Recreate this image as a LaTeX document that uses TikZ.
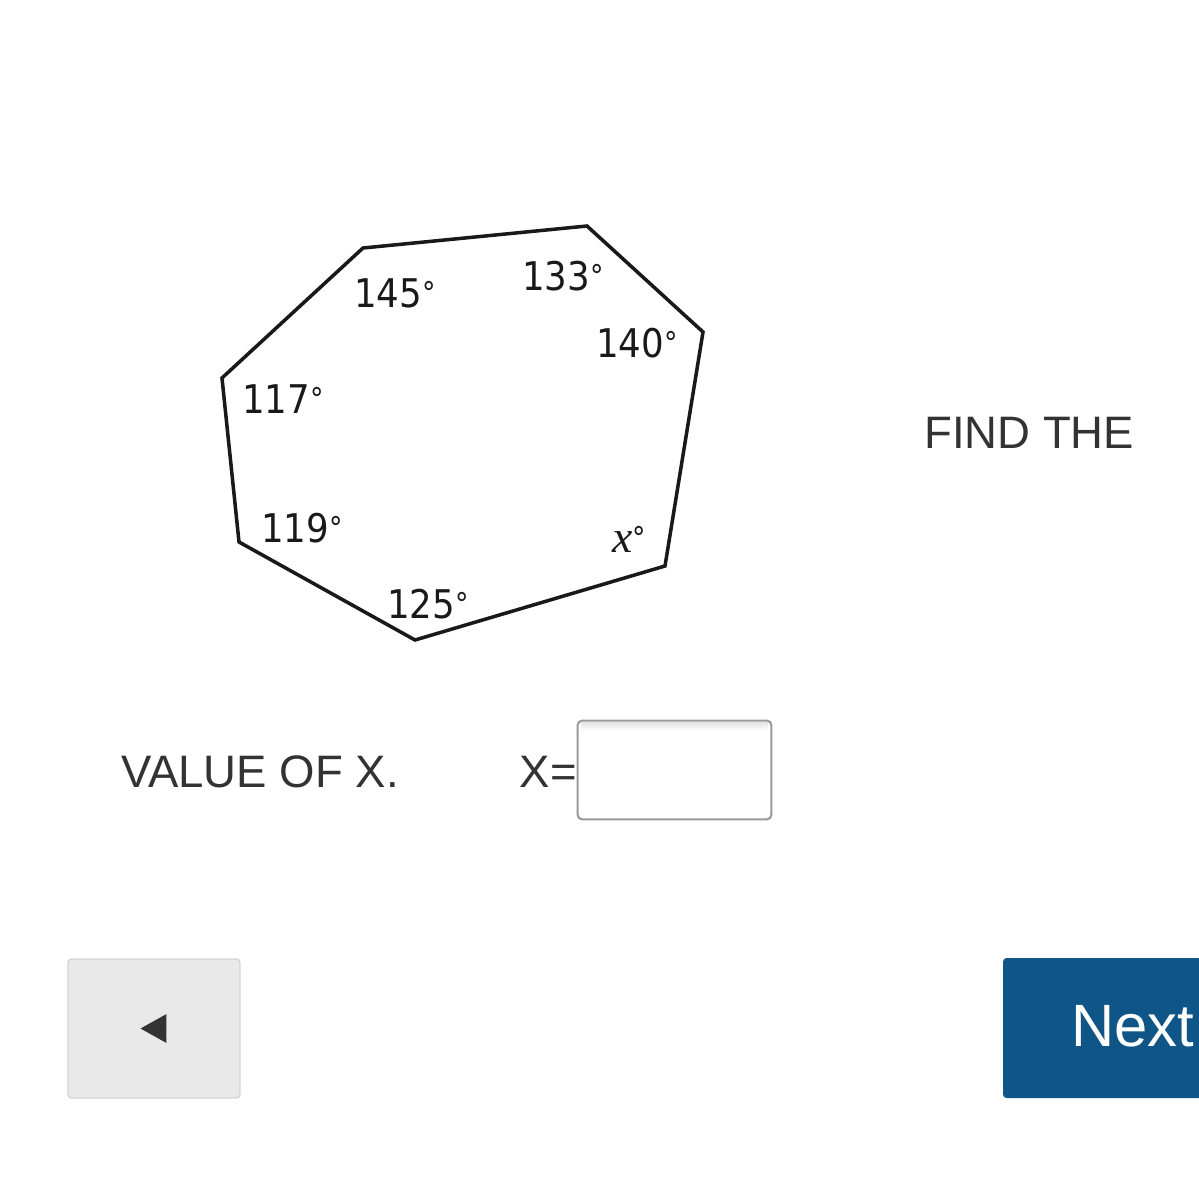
\documentclass[tikz,border=0pt]{standalone}
\usepackage{fontspec}
\setmainfont{Liberation Sans}
\newfontfamily\anglefont{DejaVu Sans Condensed}
\newfontfamily\varfont{Liberation Serif}
\usetikzlibrary{positioning}
\definecolor{textgray}{HTML}{333333}
\definecolor{nextblue}{HTML}{0F5587}
\definecolor{btngray}{HTML}{E9E9E9}
\definecolor{btnedge}{HTML}{D4D4D4}
\definecolor{boxedge}{HTML}{9A9A9A}

\newcommand{\degmark}{\raisebox{2pt}{\fontsize{17}{17}\selectfont°}}

\tikzset{
  angle/.style={anchor=base west, inner sep=0pt, font=\anglefont\fontsize{22.5}{24}\selectfont, text=black!90},
  prompt/.style={anchor=base west, inner sep=0pt, font=\fontsize{25.9}{30}\selectfont, text=textgray},
  button/.style={minimum width=3.44cm, minimum height=2.78cm, rounded corners=2pt, inner sep=0pt},
}

\begin{document}
\begin{tikzpicture}[x=0.02cm, y=-0.02cm]
		\clip (0,0) rectangle (1199,1200);
		\fill[white] (0,0) rectangle (1199,1200);
		
		% heptagon
		\coordinate (v1) at (363,248);
		\coordinate (v2) at (587,226);
		\coordinate (v3) at (703,332);
		\coordinate (v4) at (665,566);
		\coordinate (v5) at (415,640);
		\coordinate (v6) at (239,542);
		\coordinate (v7) at (222,378);
		\draw[line width=2pt, line join=miter, black!90] (v1) -- (v2) -- (v3) -- (v4) -- (v5) -- (v6) -- (v7) -- cycle;
		
		\node[angle] (a145) at (354,307) {145\degmark};
		\node[angle] (a133) at (522,290) {133\degmark};
		\node[angle] (a140) at (596,357) {140\degmark};
		\node[angle] (a117) at (242,413) {117\degmark};
		\node[angle] (a119) at (261,542) {119\degmark};
		\node[angle] (a125) at (387,618) {125\degmark};
		\node[angle] (ax) at (612,552) {{\varfont\itshape\fontsize{26}{28}\selectfont x}\degmark};
		
		% question text
		\node[prompt] (find) at (924,448) {FIND THE};
		\node[prompt] (value) at (121,787) {VALUE OF X.};
		\node[minimum width=3.86cm, minimum height=1.96cm, inner sep=0pt] (answer) at (674.5,770) {};
		\shade[top color=black!10, bottom color=white] ([xshift=0.08cm, yshift=-0.04cm]answer.north west) rectangle ([xshift=-0.08cm, yshift=-0.2cm]answer.north east);
		\draw[boxedge, line width=1.2pt, rounded corners=2.5pt] (answer.north west) rectangle (answer.south east);
		\node[prompt, anchor=base east] (xeq) at (577,787) {X=};
		
		% buttons
		\node[button, fill=btngray, draw=btnedge, line width=0.8pt] (back) at (154,1028.5) {};
		\fill[textgray] ([xshift=-0.27cm]back.center) -- ([xshift=0.25cm, yshift=0.29cm]back.center) -- ([xshift=0.25cm, yshift=-0.29cm]back.center) -- cycle;
		\node[button, fill=nextblue, minimum width=4.24cm, minimum height=2.8cm] (next) at (1109,1028) {};
		\node[anchor=base west, inner sep=0pt, text=white, font=\fontsize{34}{38}\selectfont] (nexttext) at (1071,1046) {Next};
	\end{tikzpicture}
\end{document}
